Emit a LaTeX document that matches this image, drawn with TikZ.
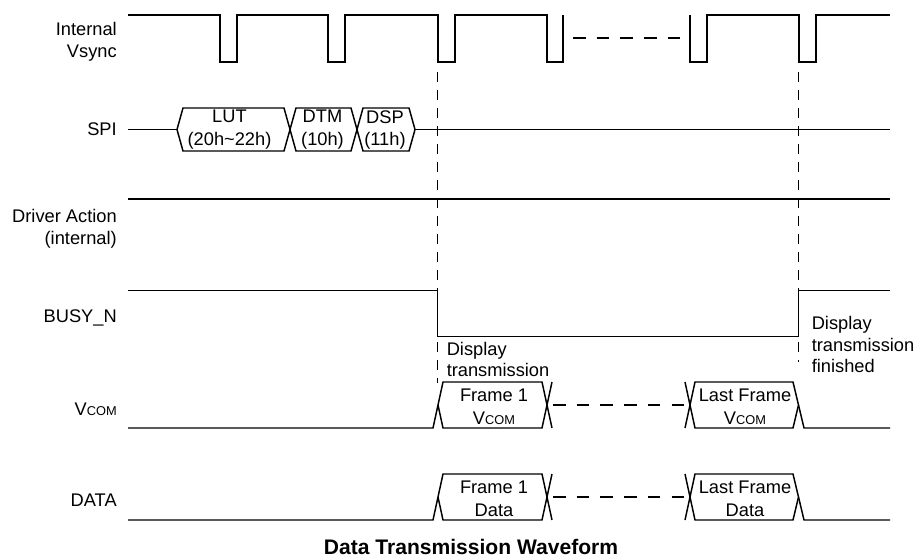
\documentclass[tikz,border=0pt]{standalone}
\usepackage{fontspec}
\setmainfont{Liberation Sans}
\newcommand{\vcom}{V\raisebox{-0.6pt}{\fontsize{9.6}{10}\selectfont COM}}
\begin{document}
\begin{tikzpicture}[
  x=0.75pt, y=-0.75pt,
  wave/.style={line width=1.1pt},
  guide/.style={line width=1pt, dash pattern=on 7.5pt off 6pt},
  gap/.style={line width=1.1pt, dash pattern=on 9.4pt off 8.4pt},
  siglabel/.style={inner sep=0pt, align=right, font=\fontsize{13.7}{16.5}\selectfont},
  boxtext/.style={inner sep=0pt, anchor=north, align=center, font=\fontsize{13.7}{17}\selectfont},
  note/.style={inner sep=0pt, anchor=north west, align=left, font=\fontsize{13.7}{16.2}\selectfont}
]
\useasboundingbox (0,0) rectangle (917,558);
% signal names
\node[siglabel, anchor=north east] (lvsync) at (117,21.5) {Internal\\Vsync};
\node[siglabel, anchor=base east] (lspi) at (117,135.5) {SPI};
\node[siglabel, anchor=north east] (ldriver) at (117,209) {Driver Action\\(internal)};
\node[siglabel, anchor=base east] (lbusy) at (117,322.5) {BUSY\_N};
\node[siglabel, anchor=base east] (lvcom) at (117,415) {\vcom};
\node[siglabel, anchor=base east] (ldata) at (117,506.5) {DATA};
% internal vsync
\draw[wave] (128,15) -- (220,15) -- (220,62) -- (237,62) -- (237,15) -- (328,15) -- (328,62) -- (345,62) -- (345,15)
  -- (438,15) -- (438,62) -- (455,62) -- (455,15) -- (547,15) -- (547,62) -- (563,62) -- (563,15);
\draw[gap] (573,38) -- (681,38);
\draw[wave] (690,15) -- (690,62) -- (707,62) -- (707,15) -- (799,15) -- (799,62) -- (816,62) -- (816,15) -- (890,15);
% spi commands
\draw[wave] (128,129.5) -- (177,129.5);
\foreach \a/\b in {177/290, 290/357, 357/415}
  \draw[wave] (\a,129.5) -- (\a+6,108) -- (\b-6,108) -- (\b,129.5) -- (\b-6,151) -- (\a+6,151) -- cycle;
\draw[wave] (415,129.5) -- (890,129.5);
\node[boxtext] (lut) at (229.5,110) {LUT\\(20h\textasciitilde 22h)};
\node[boxtext] (dtm) at (322.5,110) {DTM\\(10h)};
\node[boxtext] (dsp) at (385,110) {DSP\\(11h)};
% driver action
\draw[wave] (128,199) -- (890,199);
% busy_n
\draw[wave] (128,290.5) -- (437.5,290.5) -- (437.5,336.5) -- (798.5,336.5) -- (798.5,290.5) -- (890,290.5);
\draw[guide] (437.5,72) -- (437.5,383);
\draw[guide] (798.5,72) -- (798.5,362);
\node[note] (nstart) at (446.5,341.5) {Display\\transmission};
\node[note] (nend) at (811.5,316) {Display\\transmission\\finished};
% vcom and data frames
\foreach \yb/\sec in {428/\vcom, 520/Data} {
  \draw[wave] (128,\yb) -- (433,\yb) -- (443,\yb-46) -- (542,\yb-46) -- (552,\yb);
  \draw[wave] (438,\yb-23) -- (443,\yb) -- (542,\yb) -- (552,\yb-46);
  \draw[gap] (553,\yb-23) -- (685,\yb-23);
  \draw[wave] (685,\yb-46) -- (695,\yb) -- (793,\yb) -- (798.5,\yb-23);
  \draw[wave] (685,\yb) -- (695,\yb-46) -- (793,\yb-46) -- (804,\yb) -- (890,\yb);
  \node[boxtext] (first\yb) at (494,\yb-39.5) {Frame 1\\\sec};
  \node[boxtext] (last\yb) at (745,\yb-39.5) {Last Frame\\\sec};
}
\node[font=\bfseries\fontsize{15.8}{19}\selectfont] (title) at (471,547) {Data Transmission Waveform};
\end{tikzpicture}
\end{document}
